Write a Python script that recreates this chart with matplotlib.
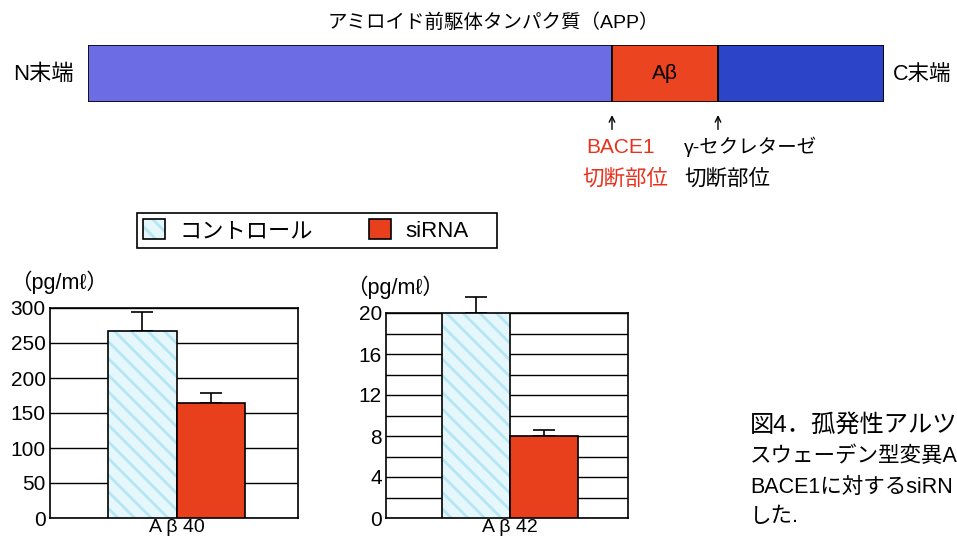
import matplotlib
matplotlib.use("Agg")
import numpy as np
import matplotlib.pyplot as plt
from matplotlib.patches import Patch, Rectangle

plt.rcParams['font.family'] = ['Liberation Sans', 'Noto Sans CJK JP', 'DejaVu Sans']
plt.rcParams['hatch.linewidth'] = 2.0

# APP domain diagram (relative lengths)
seg_lengths = [524, 106, 166]
seg_labels = ["", "Aβ", ""]
seg_colors = ["#6c6ce4", "#ea4420", "#2c44c8"]

# bar chart data
groups = ["コントロール", "siRNA"]
ab40_vals = [267, 164]
ab40_err = [27, 14]
ab42_vals = [20.0, 8.0]
ab42_err = [1.6, 0.6]

col_ctrl = "#e6f7fc"
col_hatch = "#b4e6f3"
col_si = "#e8401c"

fig = plt.figure(figsize=(9.57, 5.46), dpi=100)

# pixel overlay for free text
ov = fig.add_axes([0, 0, 1, 1])
ov.set_xlim(0, 957)
ov.set_ylim(546, 0)
ov.axis('off')

ov.text(493, 23, "アミロイド前駆体タンパク質（APP）", ha='center', va='center', fontsize=14)
ov.text(74, 74, "N末端", ha='right', va='center', fontsize=16)
ov.text(893, 74, "C末端", ha='left', va='center', fontsize=15.5)

# APP bar
axb = fig.add_axes([88/957, 1-102/546, 796/957, 57/546])
lefts = np.concatenate([[0], np.cumsum(seg_lengths)[:-1]])
axb.barh(0.5, seg_lengths, left=lefts, height=1, color=seg_colors,
         edgecolor='black', linewidth=1.2)
for l, w, t in zip(lefts, seg_lengths, seg_labels):
    if t:
        axb.text(l + w/2, 0.5, t, ha='center', va='center', fontsize=15)
axb.set_xlim(0, sum(seg_lengths))
axb.set_ylim(0, 1)
axb.axis('off')

cut1 = lefts[1]
cut2 = lefts[2]
for c in (cut1, cut2):
    axb.annotate("", xy=(c, -0.18), xytext=(c, -0.53),
                 arrowprops=dict(arrowstyle='->', lw=1, color='black'),
                 annotation_clip=False)
axb.text(cut1 + 8, -0.79, "BACE1", ha='center', va='center', fontsize=15,
         color='#e8321e', clip_on=False)
axb.text(cut1 + 13, -1.35, "切断部位", ha='center', va='center', fontsize=15.5,
         color='#e8321e', clip_on=False)
axb.text(cut2 - 34, -0.79, "γ-セクレターゼ", ha='left', va='center', fontsize=14,
         clip_on=False)
axb.text(cut2 - 34, -1.35, "切断部位", ha='left', va='center', fontsize=15.5,
         clip_on=False)


def draw_bars(ax, vals, errs):
    x = [-0.5, 0.5]
    ax.bar(x[0], vals[0], width=1, color=col_ctrl, edgecolor=col_hatch,
           hatch='\\\\', linewidth=0, zorder=3)
    ax.bar(x[0], vals[0], width=1, fill=False, edgecolor='black',
           linewidth=1.2, zorder=4)
    ax.bar(x[1], vals[1], width=1, color=col_si, edgecolor='black',
           linewidth=1.2, zorder=4)
    ax.errorbar(x, vals, yerr=[[0, 0], errs], fmt='none', ecolor='black',
                elinewidth=1.2, capsize=8, capthick=1.2, zorder=2, clip_on=False)


ax1 = fig.add_axes([50/957, 1-518/546, 248/957, 210/546])
draw_bars(ax1, ab40_vals, ab40_err)
ax1.set_ylim(0, 300)
ax1.set_xlim(-1.85, 1.77)
ax1.set_yticks(np.arange(0, 301, 50))
ax1.set_xticks([0])
ax1.set_xticklabels(["A β 40"])
ax1.yaxis.grid(True, color='black', lw=1)

ax2 = fig.add_axes([386/957, 1-518/546, 242/957, 205/546])
draw_bars(ax2, ab42_vals, ab42_err)
ax2.set_ylim(0, 20)
ax2.set_xlim(-1.82, 1.74)
ax2.set_yticks(np.arange(0, 21, 4))
ax2.set_yticks(np.arange(0, 21, 2), minor=True)
ax2.set_xticks([0])
ax2.set_xticklabels(["A β 42"])
ax2.yaxis.grid(True, which='both', color='black', lw=1)

for ax in (ax1, ax2):
    ax.set_axisbelow(True)
    ax.tick_params(axis='both', which='both', length=0, pad=3)
    ax.tick_params(axis='y', labelsize=15)
    ax.tick_params(axis='x', labelsize=14, pad=1)
    for s in ax.spines.values():
        s.set_color('black')
        s.set_linewidth(1.2)
    ax.annotate("（pg/mℓ）", xy=(0, 1), xycoords='axes fraction',
                xytext=(-40, 26), textcoords='offset pixels',
                ha='left', va='center', fontsize=15.5)

# legend
h_ctrl = (Patch(facecolor=col_ctrl, edgecolor=col_hatch, hatch='\\\\', linewidth=0),
          Patch(fill=False, edgecolor='black', linewidth=1.2))
h_si = Patch(facecolor=col_si, edgecolor='black', linewidth=1.2)
leg = fig.legend([h_ctrl, h_si], groups, ncol=2, loc='center left',
                 bbox_to_anchor=(143/957, 1-230.5/546),
                 frameon=False, fontsize=16, handlelength=1.0, handleheight=1.03,
                 borderaxespad=0, borderpad=0, handletextpad=0.65,
                 columnspacing=2.5)
ov.add_patch(Rectangle((137, 213), 360, 35, fill=False, edgecolor='black', lw=1.2))

# caption (cut off at right edge)
ov.text(750, 425, "図4．孤発性アルツ", ha='left', va='center', fontsize=17.5)
ov.text(750, 456, "スウェーデン型変異A", ha='left', va='center', fontsize=15.5)
ov.text(750, 487, "BACE1に対するsiRN", ha='left', va='center', fontsize=15.5)
ov.text(750, 517, "した.", ha='left', va='center', fontsize=15.5)

fig.savefig("out.png", dpi=100)
